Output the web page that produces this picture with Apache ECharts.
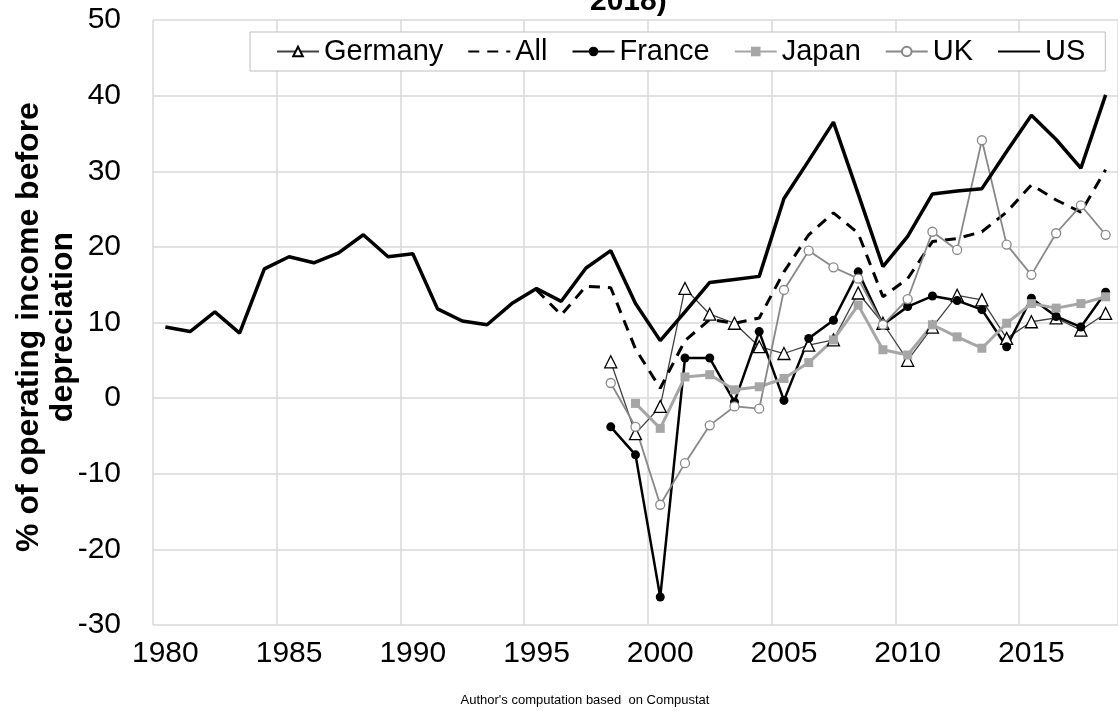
<!DOCTYPE html>
<html>
<head>
<meta charset="utf-8">
<script src="https://cdn.jsdelivr.net/npm/echarts@6/dist/echarts.min.js"></script>
<style>
  html, body { margin: 0; padding: 0; background: #fff; }
  #main { width: 1118px; height: 720px; }
</style>
</head>
<body>
<div id="main"></div>
<script>
var years = [];
for (var y = 1980; y <= 2018; y++) years.push(String(y));

// US 1980-2018
var us = [9.4, 8.8, 11.4, 8.6, 17.1, 18.7, 17.9, 19.2, 21.6, 18.7,
          19.1, 11.8, 10.2, 9.7, 12.5, 14.5, 12.8, 17.2, 19.5, 12.5,
          7.6, 11.4, 15.3, 15.7, 16.1, 26.4, 31.4, 36.5, 27.0, 17.4,
          21.4, 27.0, 27.4, 27.7, 32.6, 37.4, 34.2, 30.4, 40.1];
// All 1995-2018
var all = [14.3, 11.0, 14.8, 14.6, 6.5, 1.3, 7.6, 10.4, 9.9, 10.6,
           16.7, 21.6, 24.5, 21.8, 13.4, 15.8, 20.7, 21.1, 22.0, 24.6,
           28.2, 26.2, 24.6, 30.2];
// France 1998-2018
var france = [-3.8, -7.5, -26.3, 5.3, 5.3, -0.5, 8.8, -0.3, 7.9, 10.3,
              16.7, 9.7, 12.1, 13.5, 12.9, 11.7, 6.8, 13.2, 10.8, 9.4, 14.0];
// Japan 1999-2018
var japan = [-0.7, -4.0, 2.8, 3.1, 1.1, 1.5, 2.6, 4.7, 7.7, 12.3,
             6.4, 5.7, 9.7, 8.1, 6.6, 9.9, 12.5, 11.9, 12.5, 13.4];
// UK 1998-2018
var uk = [2.0, -3.8, -14.1, -8.6, -3.6, -1.1, -1.4, 14.3, 19.5, 17.3,
          15.8, 9.7, 13.1, 22.0, 19.6, 34.1, 20.3, 16.3, 21.8, 25.5, 21.6];
// Germany 1998-2018
var germany = [4.8, -4.7, -1.1, 14.5, 11.1, 9.9, 6.8, 5.9, 7.0, 7.7,
               13.9, 9.9, 5.0, 9.4, 13.6, 13.0, 7.9, 10.1, 10.6, 9.0, 11.2];

// pad a series so it lines up with the year categories
function pad(arr, startYear) {
    var out = [];
    for (var i = 1980; i < startYear; i++) out.push(null);
    return out.concat(arr);
}

var font = 'Liberation Sans, Arial, sans-serif';
var myChart = echarts.init(document.getElementById('main'));

option = {
    animation: false,
    backgroundColor: '#fff',
    textStyle: { fontFamily: font },
    grid: { left: 153, top: 20, width: 975, height: 605 },
    legend: {
        left: 250, top: 32,
        padding: [5, 20, 5, 26],
        itemGap: 24,
        itemWidth: 42,
        itemHeight: 12,
        backgroundColor: '#fff',
        borderColor: '#bfbfbf',
        borderWidth: 1,
        textStyle: { fontSize: 29, color: '#000', fontFamily: font },
        data: [
            'Germany',
            { name: 'All', itemStyle: { opacity: 0 } },
            'France', 'Japan', 'UK',
            { name: 'US', itemStyle: { opacity: 0 } }
        ]
    },
    xAxis: {
        type: 'category',
        data: years,
        boundaryGap: true,
        axisLine: { show: false },
        axisTick: { show: false, interval: 4 },
        axisLabel: { interval: 4, fontSize: 30, color: '#000', margin: 14, fontFamily: font },
        splitLine: { show: true, interval: 4, lineStyle: { color: '#d9d9d9', width: 1.5 } }
    },
    yAxis: {
        type: 'value',
        min: -30, max: 50, interval: 10,
        axisLine: { show: false },
        axisTick: { show: false },
        axisLabel: { fontSize: 30, color: '#000', margin: 32, fontFamily: font },
        splitLine: { lineStyle: { color: '#d9d9d9', width: 1.5 } }
    },
    graphic: [
        {
            type: 'text', left: 590, top: -13,
            style: { text: '2018)', font: 'bold 30px ' + font, fill: '#000' }
        },
        {
            type: 'text', x: 46, y: 327, rotation: Math.PI / 2,
            style: {
                text: '% of operating income before\ndepreciation',
                font: 'bold 32px ' + font, fill: '#000',
                align: 'center', verticalAlign: 'middle', lineHeight: 34
            }
        },
        {
            type: 'text', x: 585, y: 700,
            style: {
                text: "Author's computation based  on Compustat",
                font: '13px ' + font, fill: '#000',
                align: 'center', verticalAlign: 'middle'
            }
        }
    ],
    series: [
        {
            name: 'Germany', type: 'line', data: pad(germany, 1998),
            color: '#404040',
            symbol: 'triangle', symbolSize: 12,
            lineStyle: { color: '#404040', width: 1.3 },
            itemStyle: { color: '#fff', borderColor: '#000', borderWidth: 1.3 }
        },
        {
            name: 'All', type: 'line', data: pad(all, 1995),
            color: '#000', symbol: 'none',
            lineStyle: { color: '#000', width: 3, type: [11, 8] }
        },
        {
            name: 'France', type: 'line', data: pad(france, 1998),
            color: '#000',
            symbol: 'circle', symbolSize: 9,
            lineStyle: { color: '#000', width: 2.5 },
            itemStyle: { color: '#000' }
        },
        {
            name: 'Japan', type: 'line', data: pad(japan, 1999),
            color: '#a6a6a6',
            symbol: 'rect', symbolSize: 9,
            lineStyle: { color: '#a6a6a6', width: 3 },
            itemStyle: { color: '#a6a6a6' }
        },
        {
            name: 'UK', type: 'line', data: pad(uk, 1998),
            color: '#888',
            symbol: 'circle', symbolSize: 9,
            lineStyle: { color: '#888', width: 1.8 },
            itemStyle: { color: '#fff', borderColor: '#888', borderWidth: 1.3 }
        },
        {
            name: 'US', type: 'line', data: us,
            color: '#000', symbol: 'none',
            lineStyle: { color: '#000', width: 3.5 }
        }
    ]
};

myChart.setOption(option);
</script>
</body>
</html>
